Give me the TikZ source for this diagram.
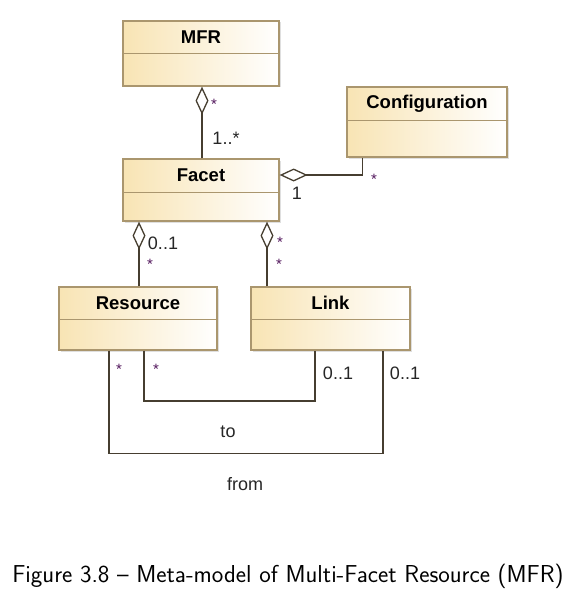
\documentclass[tikz,border=0pt]{standalone}
\usepackage{fontspec}
\setmainfont{Liberation Sans}
\newfontfamily\capfont{Latin Modern Sans}
\usetikzlibrary{arrows.meta,shadows}
\definecolor{boxfill}{RGB}{248,228,180}
\definecolor{boxline}{RGB}{170,150,110}
\definecolor{conn}{RGB}{70,62,48}
\definecolor{starcol}{RGB}{80,20,90}
\begin{document}
\begin{tikzpicture}[x=1pt,y=-1pt,
  umlbox/.style={rectangle, draw=boxline, line width=1.3pt, left color=boxfill, right color=white,
    drop shadow={shadow xshift=1.5pt, shadow yshift=-1.5pt, fill=black!25}, inner sep=0pt},
  titletext/.style={font=\fontsize{18.5}{21}\selectfont\bfseries, inner sep=0pt},
  divider/.style={draw=boxline, line width=1.3pt},
  conline/.style={draw=conn, line width=1.4pt},
  agg/.style={conline, -{Diamond[open, length=28pt, width=13pt, line width=1.3pt]}},
  mult/.style={font=\fontsize{18}{21}\selectfont, inner sep=0pt, text=black!85},
  star/.style={font=\fontsize{15}{18}\selectfont, inner sep=0pt, text=starcol},
  lbl/.style={font=\fontsize{18}{21}\selectfont, inner sep=0pt, text=black!85}]
\useasboundingbox (0,0) rectangle (582,607);
% boxes
\node[umlbox, minimum width=156pt, minimum height=65pt] (mfr) at (201,53.5) {};
\node[titletext] (mfrt) at ([yshift=-16.5pt]mfr.north) {MFR};
\draw[divider] ([yshift=-33pt]mfr.north west) -- ([yshift=-33pt]mfr.north east);

\node[umlbox, minimum width=156pt, minimum height=62pt] (facet) at (201,190) {};
\node[titletext] (facett) at ([yshift=-17pt]facet.north) {Facet};
\draw[divider] ([yshift=-34pt]facet.north west) -- ([yshift=-34pt]facet.north east);

\node[umlbox, minimum width=160pt, minimum height=70pt] (conf) at (427,122) {};
\node[titletext] (conft) at ([yshift=-17pt]conf.north) {Configuration};
\draw[divider] ([yshift=-34pt]conf.north west) -- ([yshift=-34pt]conf.north east);

\node[umlbox, minimum width=158pt, minimum height=63pt] (res) at (138,318.5) {};
\node[titletext] (rest) at ([yshift=-16.5pt]res.north) {Resource};
\draw[divider] ([yshift=-33pt]res.north west) -- ([yshift=-33pt]res.north east);

\node[umlbox, minimum width=159pt, minimum height=63pt] (link) at (330.5,318.5) {};
\node[titletext] (linkt) at ([yshift=-16.5pt]link.north) {Link};
\draw[divider] ([yshift=-33pt]link.north west) -- ([yshift=-33pt]link.north east);

% aggregations
\draw[agg] ([xshift=1pt]facet.north) -- ([xshift=1pt]mfr.south);
\draw[agg] ([xshift=16pt]conf.south west) |- ([yshift=15pt]facet.east);
\draw[agg] ([xshift=1pt]res.north) -- ([xshift=1pt]res.north |- facet.south);
\draw[agg] ([xshift=-63.5pt]link.north) -- ([xshift=-63.5pt]link.north |- facet.south);

% associations
\coordinate (fromA) at ([xshift=-29pt]res.south);
\coordinate (fromB) at ([xshift=52.5pt]link.south);
\coordinate (toA) at ([xshift=6pt]res.south);
\coordinate (toB) at ([xshift=-15.5pt]link.south);
\draw[conline] (fromA) -- ++(0,103) -| (fromB);
\draw[conline] (toA) -- ++(0,50.5) -| (toB);

% multiplicities
\node[star] (m1) at (214,104) {*};
\node[mult] (m2) at (226,138) {1..*};
\node[star] (m3) at (374,179) {*};
\node[mult] (m4) at (297,193) {1};
\node[mult] (m5) at (163,243) {0..1};
\node[star] (m6) at (150,264) {*};
\node[star] (m7) at (280,242) {*};
\node[star] (m8) at (279,264) {*};
\node[star] (m9) at (119,369) {*};
\node[star] (m10) at (156,369) {*};
\node[mult] (m11) at (338,373) {0..1};
\node[mult] (m12) at (405,373) {0..1};
\node[lbl] (to) at (228,432) {to};
\node[lbl] (from) at (245,484) {from};

% caption
\node[font=\capfont\fontsize{24.5}{29}\selectfont, inner sep=0pt] (cap) at (288,576) {Figure 3.8 – Meta-model of Multi-Facet Resource (MFR)};
\end{tikzpicture}
\end{document}
